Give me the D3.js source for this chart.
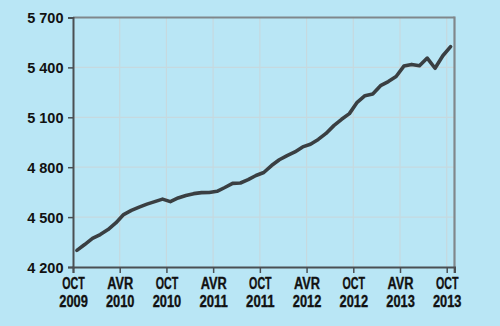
<!DOCTYPE html>
<html><head><meta charset="utf-8">
<script src="https://cdn.jsdelivr.net/npm/d3@7"></script>
<style>
html,body{margin:0;padding:0;background:#b9e6f5;}
svg{display:block;}
</style></head>
<body>
<svg id="c" width="500" height="326"></svg>
<script>
// Monthly values, Oct 2009 (index 0) to Oct 2013 (index 48)
const values = [4300,4335,4372,4395,4425,4465,4515,4540,4560,4578,4593,4608,
  4593,4615,4630,4641,4647,4648,4655,4678,4703,4705,4725,4750,
  4768,4810,4845,4870,4892,4922,4938,4967,5003,5050,5088,5122,
  5190,5230,5240,5290,5315,5345,5408,5418,5410,5456,5395,5470,5525];
const xTickMonths = [0,6,12,18,24,30,36,42,48];
const xTickLabels = [["OCT","2009"],["AVR","2010"],["OCT","2010"],["AVR","2011"],["OCT","2011"],["AVR","2012"],["OCT","2012"],["AVR","2013"],["OCT","2013"]];
const yTicks = [4200,4500,4800,5100,5400,5700];
const yTickLabels = ["4 200","4 500","4 800","5 100","5 400","5 700"];

const svg = d3.select("#c");
const L = 73, R = 454.5, T = 17.5, B = 267;
const x = d3.scaleLinear().domain([0,49]).range([L,R]);
const y = d3.scaleLinear().domain([4200,5700]).range([B,T]);

// gridlines
svg.append("g").selectAll("line").data(yTicks.slice(1,-1)).join("line")
  .attr("x1",L).attr("x2",R).attr("y1",d=>y(d)).attr("y2",d=>y(d))
  .attr("stroke","#c6d9df").attr("stroke-width",1.2);
svg.append("g").selectAll("line").data(xTickMonths.slice(1)).join("line")
  .attr("x1",d=>x(d)).attr("x2",d=>x(d)).attr("y1",T).attr("y2",B)
  .attr("stroke","#c6d9df").attr("stroke-width",1.2);

// frame top & right
svg.append("line").attr("x1",L).attr("x2",R).attr("y1",T).attr("y2",T)
  .attr("stroke","#80878b").attr("stroke-width",2.2);
svg.append("line").attr("x1",R).attr("x2",R).attr("y1",T-1).attr("y2",B+6)
  .attr("stroke","#80878b").attr("stroke-width",2.2);

// y axis
const yAxis = d3.axisLeft(y).tickValues(yTicks).tickSize(5)
  .tickFormat((d,i)=>yTickLabels[i]);
const gy = svg.append("g").attr("transform",`translate(${L},0)`).call(yAxis);
gy.select(".domain").attr("stroke","#4a4f53").attr("stroke-width",2);
gy.selectAll(".tick line").attr("stroke","#4a4f53").attr("stroke-width",1.5);
gy.selectAll(".tick text").attr("x",-9.5).attr("dy","0.36em")
  .attr("font-family","'Liberation Sans', Arial, sans-serif")
  .attr("font-weight","bold").attr("font-size","14.5px").attr("fill","#111");

// x axis
const xAxis = d3.axisBottom(x).tickValues(xTickMonths).tickSize(6).tickFormat("");
const gx = svg.append("g").attr("transform",`translate(0,${B})`).call(xAxis);
gx.select(".domain").attr("stroke","#4a4f53").attr("stroke-width",2);
gx.selectAll(".tick line").attr("stroke","#4a4f53").attr("stroke-width",1.5);
gx.selectAll(".tick").each(function(d,i){
  const g = d3.select(this);
  const mk = (txt, yy, w) => g.append("text")
    .attr("text-anchor","middle").attr("fill","#111")
    .attr("font-family","'Liberation Sans', Arial, sans-serif")
    .attr("font-weight","bold").attr("font-size","16px")
    .attr("stroke","#111").attr("stroke-width",0.35)
    .attr("x",0).attr("y",yy)
    .attr("textLength",w).attr("lengthAdjust","spacingAndGlyphs")
    .text(txt);
  mk(xTickLabels[i][0], 22, xTickLabels[i][0]==="OCT" ? 22.5 : 26);
  mk(xTickLabels[i][1], 40, 28.5);
});

// line
const line = d3.line().x((d,i)=>x(i+0.5)).y(d=>y(d)).curve(d3.curveLinear);
svg.append("path").datum(values).attr("d",line)
  .attr("fill","none").attr("stroke","#3a3f42").attr("stroke-width",3.6)
  .attr("stroke-linejoin","round").attr("stroke-linecap","round");
</script>
</body></html>
